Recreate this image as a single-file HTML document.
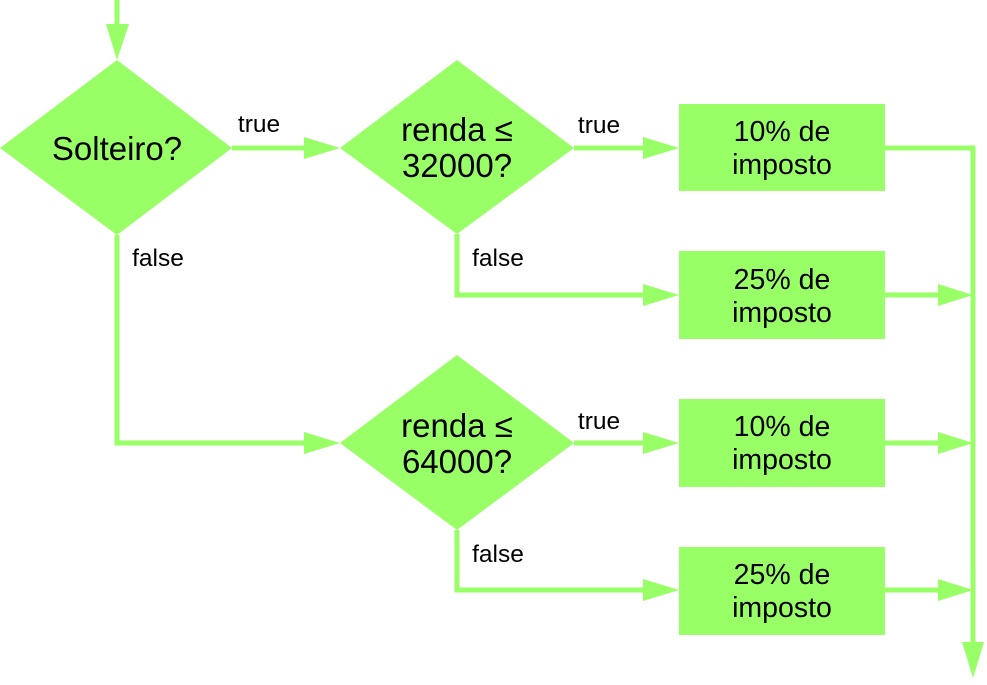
<!DOCTYPE html>
<html><head><style>body{margin:0;background:#fff}</style></head><body>
<svg width="987" height="680" viewBox="0 0 987 680" xmlns="http://www.w3.org/2000/svg" font-family="Liberation Sans, sans-serif">
<g fill="#99ff66">
<polygon points="0,148 117,60 232,148 117,235"/>
<polygon points="340,148 457,60 574,148 457,234"/>
<polygon points="340,443 457,355 574,443 457,530"/>
<rect x="679" y="104" width="206" height="87"/>
<rect x="679" y="251" width="206" height="88"/>
<rect x="679" y="399" width="206" height="88"/>
<rect x="679" y="547" width="206" height="88"/>
</g>
<g stroke="#99ff66" stroke-width="5" fill="none">
<path d="M117,0 V28"/>
<path d="M232,148 H310"/>
<path d="M574,148 H648"/>
<path d="M117,235 V443 H306"/>
<path d="M457,234 V295 H648"/>
<path d="M574,443 H648"/>
<path d="M457,530 V590 H648"/>
<path d="M885,148 H973 V645"/>
<path d="M885,295 H942 M885,443 H942 M885,590 H942"/>
</g>
<g fill="#99ff66">
<polygon points="106,24 129,24 117,60"/>
<polygon points="304,137 304,159 340,148"/>
<polygon points="643,137 643,159 679,148"/>
<polygon points="304,432 304,454 340,443"/>
<polygon points="643,284 643,306 679,295"/>
<polygon points="643,432 643,454 679,443"/>
<polygon points="643,579 643,601 679,590"/>
<polygon points="938,284 938,306 973,295"/>
<polygon points="938,432 938,454 973,443"/>
<polygon points="938,579 938,601 973,590"/>
<polygon points="962,642 984,642 973,678"/>
</g>
<g fill="#000" text-anchor="middle">
<text x="117" y="160" font-size="33">Solteiro?</text>
<text x="457" y="141" font-size="33">renda ≤</text>
<text x="457" y="177" font-size="33">32000?</text>
<text x="457" y="437" font-size="33">renda ≤</text>
<text x="457" y="473" font-size="33">64000?</text>
<g font-size="28.5">
<text x="782" y="141">10% de</text><text x="782" y="174">imposto</text>
<text x="782" y="289">25% de</text><text x="782" y="322">imposto</text>
<text x="782" y="436">10% de</text><text x="782" y="469">imposto</text>
<text x="782" y="584">25% de</text><text x="782" y="617">imposto</text>
</g>
<g font-size="24.5">
<text x="259" y="132">true</text>
<text x="158" y="266">false</text>
<text x="599" y="133">true</text>
<text x="498" y="266">false</text>
<text x="599" y="429">true</text>
<text x="498" y="562">false</text>
</g>
</g>
</svg>
</body></html>
